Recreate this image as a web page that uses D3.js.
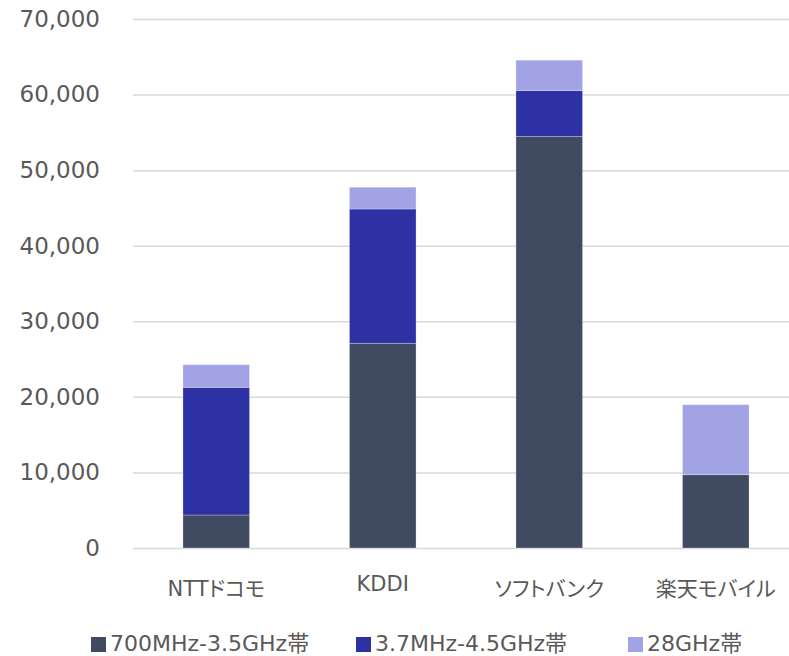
<!DOCTYPE html>
<html>
<head>
<meta charset="utf-8">
<script src="https://cdn.jsdelivr.net/npm/d3@7"></script>
<style>
  html, body { margin: 0; padding: 0; background: #ffffff; }
  svg { display: block; }
  text { font-family: "DejaVu Sans", "Noto Sans CJK JP", sans-serif; fill: #595959; }
  .cat { font-feature-settings: "palt"; }
</style>
</head>
<body>
<svg id="chart" width="789" height="656"></svg>
<script>
// Carriers and their base-station counts by frequency band
const categories = ["NTTドコモ", "KDDI", "ソフトバンク", "楽天モバイル"];
const seriesNames = ["700MHz-3.5GHz帯", "3.7MHz-4.5GHz帯", "28GHz帯"];
const band700to35 = [4370, 27090, 54440, 9700];
const band37to45 = [16890, 17770, 6090, 0];
const band28 = [2990, 2880, 4020, 9260];
const yTicks = [0, 10000, 20000, 30000, 40000, 50000, 60000, 70000];
const colors = ["#404b62", "#2d31a3", "#a1a3e4"];

const svg = d3.select("#chart");

const x = d3.scaleBand()
  .domain(categories)
  .range([133, 799])
  .paddingInner(0.6)
  .paddingOuter(0.3);

const y = d3.scaleLinear()
  .domain([0, 70000])
  .range([548, 19]);

// Gridlines and value labels
const yAxis = d3.axisLeft(y)
  .tickValues(yTicks)
  .tickSize(-(799 - 133))
  .tickPadding(33)
  .tickFormat(d3.format(","));

const gy = svg.append("g")
  .attr("transform", "translate(133,0)")
  .call(yAxis);
gy.select(".domain").remove();
gy.selectAll(".tick line").attr("stroke", "#d9d9d9").attr("stroke-width", 1.5);
gy.selectAll(".tick text")
  .attr("font-size", 23)
  .attr("fill", "#595959");

// Stacked bars
const rows = categories.map((c, i) => ({
  cat: c,
  s0: band700to35[i],
  s1: band37to45[i],
  s2: band28[i]
}));
const stack = d3.stack().keys(["s0", "s1", "s2"]);
const layers = stack(rows);

svg.append("g")
  .selectAll("g")
  .data(layers)
  .join("g")
  .attr("fill", (d, i) => colors[i])
  .selectAll("rect")
  .data(d => d.filter(p => p[1] > p[0]))
  .join("rect")
  .attr("x", d => x(d.data.cat))
  .attr("width", x.bandwidth())
  .attr("y", d => y(d[1]))
  .attr("height", d => y(d[0]) - y(d[1]))
  .attr("stroke", "#ffffff")
  .attr("stroke-opacity", 0.35)
  .attr("stroke-width", 0.8);

// Category labels
svg.append("g")
  .selectAll("text")
  .data(categories)
  .join("text")
  .attr("class", "cat")
  .attr("x", d => x(d) + x.bandwidth() / 2)
  .attr("y", d => /^[\x00-\x7F]+$/.test(d) ? 591 : 596)
  .attr("text-anchor", "middle")
  .attr("font-size", 21)
  .text(d => d);

// Legend
const legendX = [91, 356, 628];
const legend = svg.append("g")
  .selectAll("g")
  .data(seriesNames)
  .join("g")
  .attr("transform", (d, i) => `translate(${legendX[i]},0)`);
legend.append("rect")
  .attr("x", 0)
  .attr("y", 637)
  .attr("width", 15)
  .attr("height", 15)
  .attr("fill", (d, i) => colors[i]);
legend.append("text")
  .attr("x", 19)
  .attr("y", 651)
  .attr("font-size", 22)
  .text(d => d);
</script>
</body>
</html>
